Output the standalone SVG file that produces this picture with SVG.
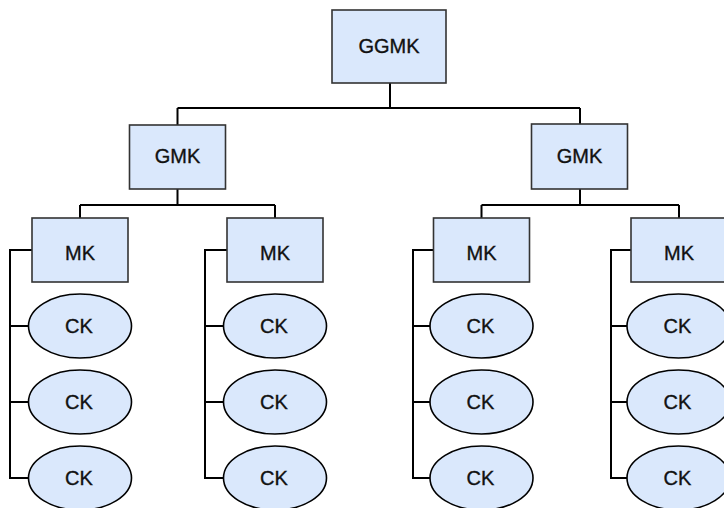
<svg xmlns="http://www.w3.org/2000/svg" width="724" height="508" viewBox="0 0 724 508">
  <style>
    .box { fill: #dae8fc; stroke: #333333; stroke-width: 1.6; }
    .oval { fill: #dae8fc; stroke: #000000; stroke-width: 1.6; }
    .lbl { font-family: "Liberation Sans", Arial, Helvetica, sans-serif; font-size: 20px; fill: #111111; stroke: #111111; stroke-width: 0.35; text-anchor: middle; }
    .wire { fill: none; stroke: #000000; stroke-width: 2; }
  </style>
  <rect width="724" height="508" fill="#ffffff"/>

  <!-- connectors -->
  <g id="connectors" class="wire">
    <!-- top level -->
    <path d="M390,83 V108"/>
    <path d="M177.5,108 H580"/>
    <path d="M177.5,108 V125"/>
    <path d="M580,108 V124"/>
    <!-- second level -->
    <path d="M177.5,189 V205 M80,205 H275 M80,205 V218 M275,205 V218"/>
    <path d="M580,189 V205 M481.5,205 H679 M481.5,205 V218 M679,205 V218"/>
    <!-- child brackets -->
    <path d="M32,250 H10 V478 H28.5 M10,326 H28.5 M10,402 H28.5"/>
    <path d="M227,250 H205 V478 H223.5 M205,326 H223.5 M205,402 H223.5"/>
    <path d="M433.5,250 H413 V478 H430 M413,326 H430 M413,402 H430"/>
    <path d="M631,250 H611 V478 H627 M611,326 H627 M611,402 H627"/>
  </g>

  <g id="ggmk">
    <rect class="box" x="332" y="10" width="114" height="73"/>
    <text class="lbl" x="389" y="53">GGMK</text>
  </g>

  <g id="gmk-left">
    <rect class="box" x="129.5" y="125" width="96" height="64"/>
    <text class="lbl" x="177.5" y="163">GMK</text>
  </g>
  <g id="gmk-right">
    <rect class="box" x="531.5" y="124" width="96" height="65"/>
    <text class="lbl" x="579.5" y="163">GMK</text>
  </g>

  <g id="mk-1">
    <rect class="box" x="32" y="218" width="96" height="64"/>
    <text class="lbl" x="80" y="260">MK</text>
  </g>
  <g id="mk-2">
    <rect class="box" x="227" y="218" width="96" height="64"/>
    <text class="lbl" x="275" y="260">MK</text>
  </g>
  <g id="mk-3">
    <rect class="box" x="433.5" y="218" width="96" height="64"/>
    <text class="lbl" x="481.5" y="260">MK</text>
  </g>
  <g id="mk-4">
    <rect class="box" x="631" y="218" width="96" height="64"/>
    <text class="lbl" x="679" y="260">MK</text>
  </g>

  <!-- leaf ovals, column 1 -->
  <g id="ck-1-1"><ellipse class="oval" cx="80" cy="326" rx="51.5" ry="32"/><text class="lbl" x="79" y="333">CK</text></g>
  <g id="ck-1-2"><ellipse class="oval" cx="80" cy="402" rx="51.5" ry="32"/><text class="lbl" x="79" y="409">CK</text></g>
  <g id="ck-1-3"><ellipse class="oval" cx="80" cy="478" rx="51.5" ry="32"/><text class="lbl" x="79" y="485">CK</text></g>

  <!-- column 2 -->
  <g id="ck-2-1"><ellipse class="oval" cx="275" cy="326" rx="51.5" ry="32"/><text class="lbl" x="274" y="333">CK</text></g>
  <g id="ck-2-2"><ellipse class="oval" cx="275" cy="402" rx="51.5" ry="32"/><text class="lbl" x="274" y="409">CK</text></g>
  <g id="ck-2-3"><ellipse class="oval" cx="275" cy="478" rx="51.5" ry="32"/><text class="lbl" x="274" y="485">CK</text></g>

  <!-- column 3 -->
  <g id="ck-3-1"><ellipse class="oval" cx="481.5" cy="326" rx="51.5" ry="32"/><text class="lbl" x="480.5" y="333">CK</text></g>
  <g id="ck-3-2"><ellipse class="oval" cx="481.5" cy="402" rx="51.5" ry="32"/><text class="lbl" x="480.5" y="409">CK</text></g>
  <g id="ck-3-3"><ellipse class="oval" cx="481.5" cy="478" rx="51.5" ry="32"/><text class="lbl" x="480.5" y="485">CK</text></g>

  <!-- column 4 -->
  <g id="ck-4-1"><ellipse class="oval" cx="678.5" cy="326" rx="51.5" ry="32"/><text class="lbl" x="677.5" y="333">CK</text></g>
  <g id="ck-4-2"><ellipse class="oval" cx="678.5" cy="402" rx="51.5" ry="32"/><text class="lbl" x="677.5" y="409">CK</text></g>
  <g id="ck-4-3"><ellipse class="oval" cx="678.5" cy="478" rx="51.5" ry="32"/><text class="lbl" x="677.5" y="485">CK</text></g>
</svg>
